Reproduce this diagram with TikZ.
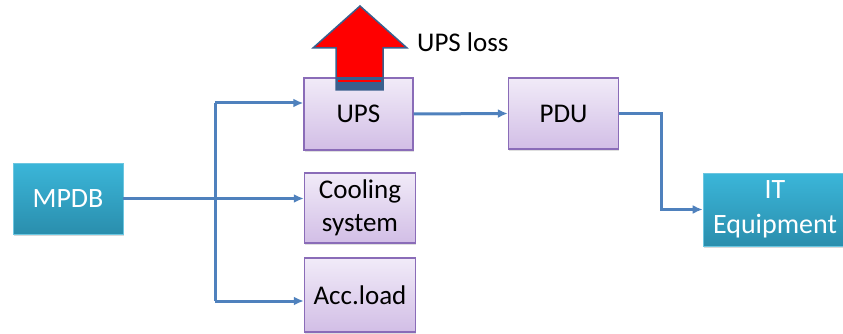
\documentclass[tikz,border=0pt]{standalone}
\usepackage{fontspec}
\setmainfont{Carlito}
\usetikzlibrary{arrows.meta,shadows,calc}
\definecolor{linkblue}{HTML}{4F81BD}
\definecolor{purpleedge}{HTML}{8A6CB8}
\definecolor{purpletop}{HTML}{F1EBF8}
\definecolor{purplebot}{HTML}{D2BEE6}
\definecolor{tealtop}{HTML}{3BB6D9}
\definecolor{tealbot}{HTML}{2A8EAD}
\definecolor{tealedge}{HTML}{6CC6E0}
\definecolor{arrowedge}{HTML}{3A5F8D}
\tikzset{
  procbox/.style={draw=purpleedge, line width=1.4pt, top color=purpletop, bottom color=purplebot,
    align=center, font=\fontsize{27}{33}\selectfont, inner sep=0pt,
    drop shadow={opacity=0.25, shadow xshift=0.8pt, shadow yshift=-1.5pt}},
  endbox/.style={draw=tealedge, line width=0.6pt, top color=tealtop, bottom color=tealbot,
    text=white, align=center, font=\fontsize{28}{35}\selectfont, inner sep=0pt,
    drop shadow={opacity=0.3, shadow xshift=0.8pt, shadow yshift=-2pt}},
  link/.style={draw=linkblue, line width=3pt},
  flow/.style={link, -{Latex[length=10pt,width=9pt]}},
}
\begin{document}
\begin{tikzpicture}[x=1pt,y=-1pt]
\useasboundingbox (0,0) rectangle (843,334);
\clip (0,0) rectangle (843,334);

% blocks
\node[endbox, minimum width=110pt, minimum height=71pt] (mpdb) at (68,198.5) {MPDB};
\node[procbox, minimum width=109pt, minimum height=72pt] (ups) at (358.5,114) {UPS};
\node[procbox, minimum width=110pt, minimum height=71pt] (pdu) at (563.5,113.5) {PDU};
\node[procbox, minimum width=111pt, minimum height=70pt] (cool) at (360,208) {Cooling\\system};
\node[procbox, minimum width=111pt, minimum height=74pt] (acc) at (360,295) {Acc.load};
\node[endbox, minimum width=144pt, minimum height=73pt] (it) at (775,209.5) {IT\\Equipment};

% distribution from the main panel
\coordinate (jtop) at (215,103);
\coordinate (jbot) at (215,301);
\draw[link] (mpdb.east) -- (mpdb.east -| jtop);
\draw[link] (jtop) -- (jbot);
\draw[flow] (jtop) -- (jtop -| ups.west);
\draw[flow] (mpdb.east -| jtop) -- (mpdb.east -| cool.west);
\draw[flow] (jbot) -- (jbot -| acc.west);

% UPS -> PDU -> IT load
\draw[flow] (ups.east) -- (pdu.west);
\coordinate (bend) at (661,113.5);
\draw[flow] (pdu.east) -- (bend) |- (it.west);

% loss arrow leaving the UPS
\filldraw[fill=red, draw=arrowedge, line width=1.5pt, line join=miter]
  (360,6) -- (407,48) -- (383,48) -- (383,90) -- (336,90) -- (336,48) -- (313,48) -- cycle;
\fill[arrowedge] (336,77) rectangle (383,90);
\fill[red] (338,80) rectangle (381,82.5);
\node[font=\fontsize{27}{28}\selectfont, anchor=west, inner sep=0pt] (loss) at (417,42) {UPS loss};
\end{tikzpicture}
\end{document}
